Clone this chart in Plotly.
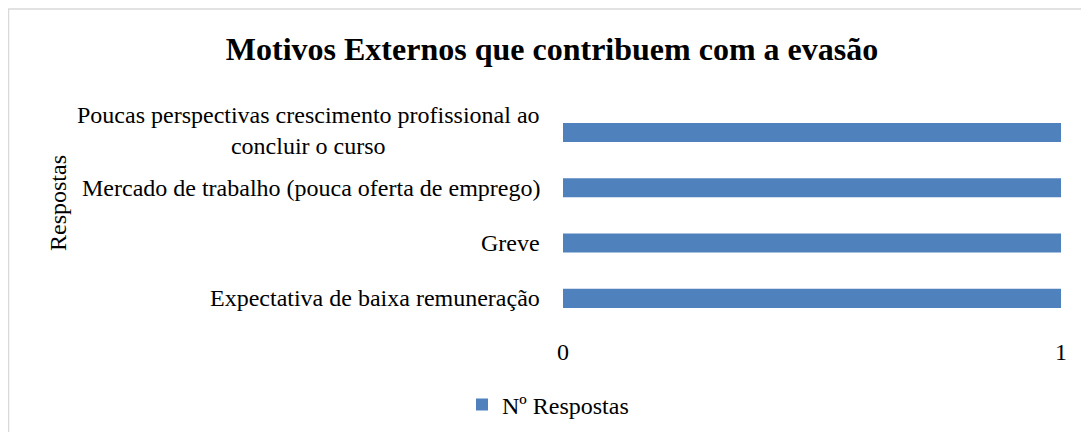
import plotly.graph_objects as go

categories = [
    "Expectativa de baixa remuneração",
    "Greve",
    "Mercado de trabalho (pouca oferta de emprego)",
    "Poucas perspectivas crescimento profissional ao<br>concluir o curso",
]
values = [1, 1, 1, 1]
series_name = "Nº Respostas"
title_text = "Motivos Externos que contribuem com a evasão"
y_title = "Respostas"
x_ticks = [0, 1]

# page has 8px body margin; figure placed at (8, 8)
OFF = 8
W, H = 1089 - OFF, 432 - OFF
L, R, T, B = 563 - OFF, 28, 100 - OFF, 106
pw = W - L - R
ph = H - T - B

FONT = "Liberation Serif"
FS = 24
BLUE = "#4F81BD"
GRID = "#D9D9D9"

fig = go.Figure()
fig.add_trace(go.Bar(
    y=categories, x=values, orientation="h", name=series_name,
    marker=dict(color=BLUE, line=dict(width=0)),
    showlegend=True,
))

annotations = []
for c in categories:
    annotations.append(dict(
        x=0, xref="paper", y=c, yref="y", text=c, showarrow=False,
        xanchor="right", yanchor="middle", align="center", xshift=-21,
        yshift=2 if "<br>" in c else 0,
        font=dict(family=FONT, size=FS, color="#000000"),
    ))
annotations.append(dict(
    x=(58 - 563) / pw, xref="paper", y=(326 - 203) / ph, yref="paper", text=y_title,
    showarrow=False, textangle=-90, xanchor="center", yanchor="middle",
    font=dict(family=FONT, size=FS, color="#000000"),
))

fig.update_layout(
    width=W, height=H,
    margin=dict(l=L, r=R, t=T, b=B, autoexpand=False),
    paper_bgcolor="#FFFFFF", plot_bgcolor="#FFFFFF",
    font=dict(family=FONT, size=FS, color="#000000"),
    title=dict(text="<b>" + title_text + "</b>", x=(552 - OFF) / W, xanchor="center",
               y=1 - (49 - OFF) / H, yanchor="middle",
               font=dict(family=FONT, size=32, color="#000000")),
    bargap=0.655,
    xaxis=dict(range=[0, 1], tickvals=x_ticks, ticktext=[str(v) for v in x_ticks],
               showgrid=True, gridcolor=GRID, gridwidth=2, zeroline=False,
               showline=False, ticks="", ticklabelstandoff=9,
               tickfont=dict(family=FONT, size=FS, color="#000000"),
               fixedrange=True),
    yaxis=dict(categoryorder="array", categoryarray=categories,
               showticklabels=False, showgrid=False, zeroline=False,
               showline=False, ticks=""),
    legend=dict(orientation="h", x=(548 - 563) / pw, xanchor="center",
                y=(326 - 405) / ph, yanchor="middle",
                font=dict(family=FONT, size=FS, color="#000000"),
                itemwidth=30, tracegroupgap=0),
    annotations=annotations,
    shapes=[dict(type="rect", xref="paper", yref="paper",
                 x0=(8.5 - 563) / pw, x1=(1095 - 563) / pw,
                 y0=(326 - 440) / ph, y1=(326 - 9) / ph,
                 line=dict(color=GRID, width=1.5), fillcolor="rgba(0,0,0,0)",
                 layer="below")],
)

fig.write_html("out.html")
